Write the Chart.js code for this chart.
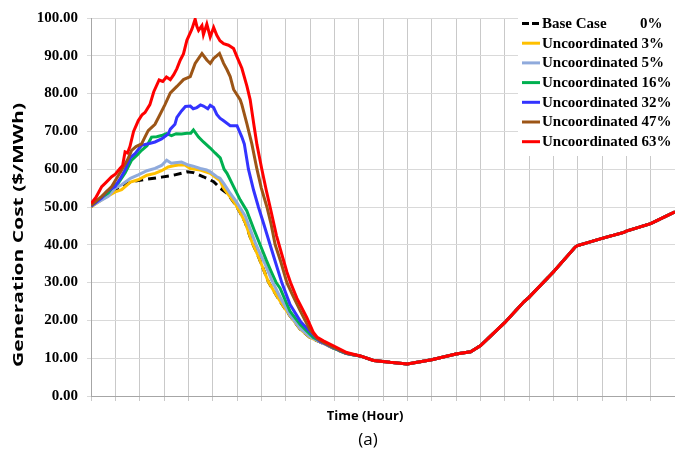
<!DOCTYPE html>
<html>
<head>
<meta charset="utf-8">
<script src="https://cdn.jsdelivr.net/npm/chart.js@4/dist/chart.umd.min.js"></script>
<style>
  html, body { margin: 0; padding: 0; background: #ffffff; }
  #wrap { width: 675px; height: 456px; }
</style>
</head>
<body>
<div id="wrap"><canvas id="cost" width="675" height="456"></canvas></div>
<script>
// Hourly generation cost ($/MWh) over one day for different EV penetration levels.
const seriesNames = ['Base Case', 'Uncoordinated 3%', 'Uncoordinated 5%', 'Uncoordinated 16%',
                     'Uncoordinated 32%', 'Uncoordinated 47%', 'Uncoordinated 63%'];
const baseShareLabel = '0%';

const yTicks = [0, 10, 20, 30, 40, 50, 60, 70, 80, 90, 100];

// Evening / night part shared by every scenario (charging has ended)
const tailHours = [11.06, 11.61, 12.29, 13.0, 14.0, 15.0, 15.6, 16.0, 17.0, 17.8, 18.0, 19.0, 19.9, 20.0, 21.0, 21.9, 22.0, 23.0, 24.0];
const tailCost  = [10.6, 9.4, 8.9, 8.5, 9.6, 11.1, 11.7, 13.3, 19.4, 25.0, 26.1, 32.8, 39.4, 39.8, 41.7, 43.3, 43.6, 45.6, 48.7];

const baseHours = [0, 0.5, 1.12, 1.67, 2.22, 2.9, 3.45, 3.94, 4.21, 4.62, 5.04, 5.31, 5.6, 5.95, 6.1, 6.34, 6.61, 6.88, 7.29, 7.63, 7.9, 8.18, 8.6, 9.0, 9.55, 10.0, 10.51];
const baseCost  = [50.0, 53.0, 55.0, 56.7, 57.3, 57.9, 58.5, 59.3, 59.1, 58.0, 56.7, 55.0, 53.6, 50.5, 48.9, 45.9, 40.8, 36.9, 30.2, 26.5, 23.8, 21.2, 17.7, 15.5, 13.9, 12.5, 11.2];

const u3Hours = [0, 0.5, 1.0, 1.26, 1.62, 1.94, 2.3, 2.63, 2.9, 3.17, 3.4, 3.59, 3.86, 4.08, 4.49, 4.9, 5.17, 5.3, 5.45, 5.7, 5.95, 6.1, 6.34, 6.61, 6.88, 7.08, 7.29, 7.63, 7.9, 8.18, 8.6, 9.0, 9.55, 10.0, 10.51];
const u3Cost  = [50.0, 52.2, 54.0, 54.6, 56.6, 57.2, 58.4, 58.9, 59.6, 60.6, 60.9, 61.1, 61.1, 60.2, 59.8, 58.9, 57.6, 57.0, 55.0, 52.8, 50.6, 48.9, 45.9, 40.8, 36.9, 33.6, 30.2, 26.5, 23.8, 21.2, 17.7, 15.5, 13.9, 12.5, 11.2];

const u5Hours = [0, 0.71, 1.0, 1.26, 1.62, 1.94, 2.3, 2.63, 2.9, 3.11, 3.3, 3.45, 3.72, 4.0, 4.2, 4.49, 4.75, 4.9, 5.17, 5.3, 5.48, 5.7, 5.95, 6.13, 6.34, 6.75, 6.95, 7.16, 7.43, 7.77, 8.18, 8.6, 9.0, 9.55, 10.0, 10.51];
const u5Cost  = [50.2, 52.8, 55.0, 55.9, 57.6, 58.5, 59.6, 60.2, 61.0, 62.4, 61.6, 61.7, 61.9, 61.1, 60.8, 60.2, 59.8, 59.3, 58.0, 57.6, 56.0, 53.8, 51.6, 49.8, 47.6, 40.6, 37.6, 34.8, 30.6, 26.2, 21.4, 17.9, 15.7, 13.9, 12.6, 11.2];

const u16Hours = [0, 0.4, 0.71, 0.93, 1.12, 1.4, 1.67, 1.9, 2.08, 2.3, 2.49, 2.7, 2.9, 3.1, 3.31, 3.5, 3.72, 3.94, 4.1, 4.21, 4.42, 4.62, 4.9, 5.1, 5.31, 5.47, 5.59, 5.86, 6.13, 6.4, 6.7, 6.95, 7.2, 7.4, 7.61, 7.77, 8.18, 8.6, 9.14, 9.55, 10.0, 10.51];
const u16Cost  = [50.4, 52.4, 53.7, 55.6, 56.3, 59.0, 62.4, 63.8, 65.0, 66.2, 68.5, 68.6, 68.9, 69.4, 68.9, 69.4, 69.3, 69.5, 69.5, 70.4, 68.5, 67.2, 65.6, 64.3, 63.0, 60.0, 58.9, 55.4, 51.9, 49.0, 44.0, 40.0, 36.0, 33.0, 30.0, 28.5, 22.4, 18.9, 15.5, 14.2, 12.6, 11.2];

const u32Hours = [0, 0.44, 0.66, 0.99, 1.2, 1.4, 1.62, 1.81, 2.08, 2.4, 2.63, 2.9, 3.17, 3.26, 3.45, 3.53, 3.72, 3.88, 4.08, 4.2, 4.35, 4.5, 4.62, 4.8, 4.9, 5.04, 5.17, 5.3, 5.45, 5.72, 6.0, 6.2, 6.3, 6.47, 6.68, 6.88, 7.1, 7.36, 7.6, 7.84, 8.18, 8.6, 9.0, 9.4, 9.96, 10.51];
const u32Cost  = [50.2, 52.4, 54.2, 55.4, 57.5, 59.8, 63.1, 64.1, 66.3, 66.8, 67.2, 68.0, 69.3, 70.6, 71.9, 73.7, 75.4, 76.6, 76.7, 76.0, 76.3, 77.0, 76.7, 76.0, 76.9, 76.3, 74.5, 73.5, 72.8, 71.5, 71.5, 68.5, 66.7, 60.0, 54.5, 50.0, 45.5, 40.0, 35.0, 30.0, 24.2, 19.8, 17.0, 14.5, 12.8, 11.2];

const u47Hours = [0, 0.44, 0.85, 1.26, 1.5, 1.67, 1.85, 2.08, 2.2, 2.35, 2.63, 2.8, 3.04, 3.26, 3.53, 3.8, 4.08, 4.28, 4.45, 4.56, 4.76, 4.9, 5.04, 5.28, 5.45, 5.59, 5.72, 5.86, 6.13, 6.2, 6.41, 6.61, 6.82, 7.0, 7.23, 7.4, 7.57, 7.8, 8.05, 8.3, 8.6, 9.0, 9.3, 9.55, 10.0, 10.51];
const u47Cost  = [50.4, 52.8, 55.4, 59.8, 62.5, 65.0, 66.0, 66.7, 68.3, 70.2, 71.9, 74.0, 77.1, 80.2, 81.9, 83.7, 84.5, 88.0, 89.6, 90.6, 88.9, 88.0, 89.3, 90.6, 88.0, 86.3, 84.5, 81.1, 78.4, 77.1, 71.9, 66.7, 60.0, 55.0, 50.0, 45.5, 40.0, 35.5, 30.0, 26.5, 22.5, 17.5, 15.2, 14.2, 12.8, 11.3];

const u63Hours = [0, 0.2, 0.44, 0.6, 0.85, 1.0, 1.19, 1.3, 1.4, 1.5, 1.6, 1.75, 1.94, 2.1, 2.22, 2.42, 2.58, 2.8, 2.95, 3.1, 3.26, 3.4, 3.53, 3.67, 3.8, 3.94, 4.15, 4.28, 4.35, 4.42, 4.56, 4.62, 4.76, 4.9, 5.04, 5.17, 5.3, 5.45, 5.65, 5.86, 6.0, 6.2, 6.41, 6.54, 6.7, 6.82, 7.02, 7.2, 7.36, 7.62, 7.84, 8.05, 8.2, 8.46, 8.87, 9.14, 9.3, 9.55, 9.96, 10.51];
const u63Cost  = [50.9, 52.5, 55.4, 56.4, 58.0, 58.7, 60.2, 61.0, 64.6, 64.3, 66.0, 70.0, 72.8, 74.4, 75.0, 77.1, 80.5, 83.6, 83.2, 84.4, 83.7, 85.0, 86.6, 88.9, 90.5, 94.1, 97.1, 99.7, 97.8, 96.7, 98.0, 95.6, 98.4, 95.0, 97.5, 95.4, 94.0, 93.2, 92.8, 91.9, 89.7, 86.7, 81.9, 78.4, 71.5, 66.5, 60.0, 54.5, 50.0, 42.5, 37.5, 32.8, 30.0, 25.9, 20.7, 16.8, 15.5, 14.6, 13.3, 11.5];

const seriesHours = [baseHours, u3Hours, u5Hours, u16Hours, u32Hours, u47Hours, u63Hours];
const seriesCost  = [baseCost, u3Cost, u5Cost, u16Cost, u32Cost, u47Cost, u63Cost];
const seriesColors = ['#000000', '#FFC000', '#8FAADC', '#00B050', '#3333FF', '#9C5516', '#FF0000'];

function toPoints(hours, cost) {
  const pts = hours.map((h, i) => ({ x: h, y: cost[i] }));
  tailHours.forEach((h, i) => pts.push({ x: h, y: tailCost[i] }));
  return pts;
}

const datasets = seriesNames.map((name, i) => ({
  label: name,
  data: toPoints(seriesHours[i], seriesCost[i]),
  borderColor: seriesColors[i],
  backgroundColor: seriesColors[i],
  borderWidth: 3,
  borderDash: i === 0 ? [8, 5] : [],
  pointRadius: 0,
  tension: 0,
  fill: false,
  // later scenarios are painted over earlier ones
  order: seriesNames.length - i
}));

// Legend box in the upper-right corner of the plot
const cornerLegend = {
  id: 'cornerLegend',
  afterDatasetsDraw(chart) {
    const ctx = chart.ctx;
    const area = chart.chartArea;
    const boxLeft = 518, boxTop = area.top, rowGap = 19.7, firstRow = 23.5;
    ctx.save();
    ctx.fillStyle = '#ffffff';
    ctx.fillRect(boxLeft, boxTop, area.right - boxLeft, 138);
    ctx.font = 'bold 15px "Liberation Serif", "Times New Roman", serif';
    ctx.textBaseline = 'middle';
    ctx.textAlign = 'left';
    chart.data.datasets.forEach((ds, i) => {
      const y = firstRow + i * rowGap;
      ctx.strokeStyle = ds.borderColor;
      ctx.lineWidth = 3;
      ctx.setLineDash(i === 0 ? [7, 3] : []);
      ctx.beginPath();
      ctx.moveTo(522, y);
      ctx.lineTo(540, y);
      ctx.stroke();
      ctx.setLineDash([]);
      ctx.fillStyle = '#000000';
      ctx.fillText(ds.label, 542, y + 0.5);
      if (i === 0) ctx.fillText(baseShareLabel, 640, y + 0.5);
    });
    ctx.restore();
  }
};

// Axis titles and the panel caption
const captions = {
  id: 'captions',
  afterDraw(chart) {
    const ctx = chart.ctx;
    ctx.save();
    ctx.fillStyle = '#000000';
    ctx.textAlign = 'center';
    ctx.textBaseline = 'middle';

    // vertical axis title, stretched along its length
    const yTitle = 'Generation Cost ($/MWh)';
    ctx.font = 'bold 15px "Open Sans", sans-serif';
    const w = ctx.measureText(yTitle).width;
    ctx.translate(19, 235);
    ctx.rotate(-Math.PI / 2);
    ctx.scale(264 / w, 1);
    ctx.fillText(yTitle, 0, 0);
    ctx.setTransform(1, 0, 0, 1, 0, 0);

    ctx.font = 'bold 13px "Open Sans", sans-serif';
    ctx.fillText('Time (Hour)', 365, 416);

    ctx.font = '17px "Open Sans", sans-serif';
    ctx.fillText('(a)', 368, 440);
    ctx.restore();
  }
};

new Chart(document.getElementById('cost'), {
  type: 'line',
  data: { datasets },
  options: {
    responsive: false,
    devicePixelRatio: 1,
    animation: false,
    layout: { padding: { top: 12, right: 0, bottom: 55, left: 0 } },
    plugins: {
      legend: { display: false },
      tooltip: { enabled: false },
      title: { display: false }
    },
    scales: {
      x: {
        type: 'linear',
        min: 0,
        max: 24,
        ticks: { display: false, stepSize: 1 },
        grid: { color: '#c9c9c9', lineWidth: 1, tickLength: 5, drawTicks: true },
        border: { color: '#a6a6a6', width: 1 }
      },
      y: {
        min: 0,
        max: 100,
        afterBuildTicks(scale) { scale.ticks = yTicks.map(v => ({ value: v })); },
        afterFit(scale) { scale.width = 91; },
        ticks: {
          color: '#000000',
          padding: 9,
          font: { family: '"Liberation Serif", "Times New Roman", serif', size: 15, weight: 'bold' },
          callback: v => v.toFixed(2)
        },
        grid: { color: '#d9d9d9', lineWidth: 1, tickLength: 4, drawTicks: true },
        border: { color: '#a6a6a6', width: 1 }
      }
    }
  },
  plugins: [cornerLegend, captions]
});
</script>
</body>
</html>
